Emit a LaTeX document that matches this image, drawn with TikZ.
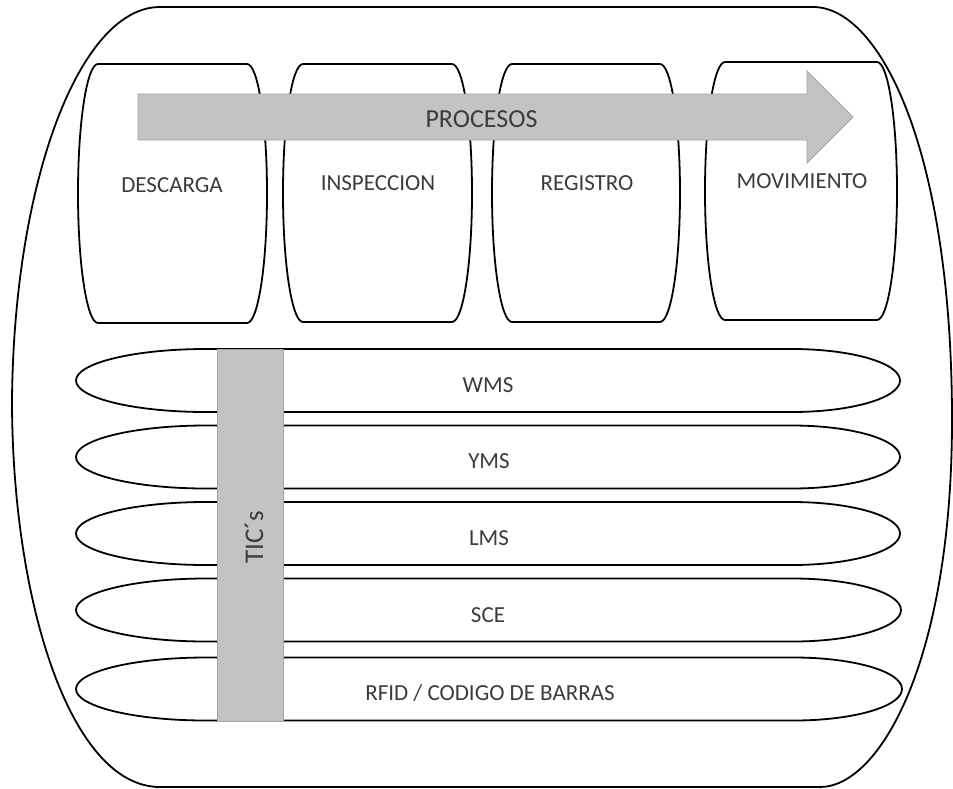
\documentclass[tikz,border=0pt]{standalone}
\usepackage{fontspec}
\setmainfont{Carlito}
\begin{document}
\definecolor{txt}{HTML}{3C3C3C}
\definecolor{barfill}{HTML}{C3C3C3}
\definecolor{baredge}{HTML}{A4A4A4}
\tikzset{
  outline/.style={draw=black, line width=1.8pt, fill=white},
  label/.style={text=txt, font=\fontsize{23}{26}\selectfont, inner sep=0pt, anchor=base},
  graybar/.style={fill=barfill, draw=baredge, line width=0.8pt},
}
% process column: flat top and bottom, half-elliptic sides
\newcommand\procshape[5]{%
  \pgfmathsetmacro\prA{#1+#5}\pgfmathsetmacro\prB{#2-#5}%
  \pgfmathsetmacro\prH{(#4-#3)/2}%
  \draw[outline] (\prA,-#3) -- (\prB,-#3)
    arc[start angle=90, end angle=-90, x radius=#5, y radius=\prH]
    -- (\prA,-#4)
    arc[start angle=270, end angle=90, x radius=#5, y radius=\prH] -- cycle;}
% system band: long stripe with pointed elliptic ends (centre y)
\newcommand\bandshape[3]{%
  \pgfmathsetmacro\bdT{#1-31.5}\pgfmathsetmacro\bdB{#1+31.5}%
  \pgfmathsetmacro\bdL{76+130}\pgfmathsetmacro\bdR{#2-108}%
  \draw[outline] (\bdL,-\bdT) -- (\bdR,-\bdT)
    arc[start angle=90, end angle=-90, x radius=108, y radius=31.5]
    -- (\bdL,-\bdB)
    arc[start angle=270, end angle=90, x radius=130, y radius=31.5] -- cycle;}
\begin{tikzpicture}[x=1pt, y=1pt]
\useasboundingbox (0,0) rectangle (953,-788);

% enclosing frame
\draw[outline] (160,-7) -- (813,-7)
  .. controls (880,-7) and (952,-150) .. (952,-420)
  .. controls (952,-660) and (880,-787) .. (820,-787)
  -- (160,-787)
  .. controls (70,-787) and (12,-600) .. (12,-400)
  .. controls (14,-180) and (80,-7) .. (160,-7) -- cycle;

% process columns
\procshape{78}{267}{64}{323}{20}
\procshape{283}{472}{64}{322}{20}
\procshape{492}{680}{64}{322}{20}
\procshape{705}{897}{62}{320}{20}

% process arrow
\draw[graybar] (138,-94) -- (807,-94) -- (807,-71) -- (853,-117)
  -- (807,-163) -- (807,-140) -- (138,-140) -- cycle;
\node[label, font=\fontsize{26}{30}\selectfont] (procesos) at (481.5,-127) {PROCESOS};

\node[label] (descarga)   at (172,-192) {DESCARGA};
\node[label] (inspeccion) at (378,-190) {INSPECCION};
\node[label] (registro)   at (587,-190) {REGISTRO};
\node[label] (movimiento) at (802,-188) {MOVIMIENTO};

% system bands
\bandshape{380.5}{900}{}
\bandshape{457}{900}{}
\bandshape{533.5}{900}{}
\bandshape{610}{901}{}
\bandshape{689}{902}{}

\node[label] (wms)  at (488,-392) {WMS};
\node[label] (yms)  at (489,-468) {YMS};
\node[label] (lms)  at (489,-545) {LMS};
\node[label] (sce)  at (488,-622) {SCE};
\node[label] (rfid) at (490,-700) {RFID / CODIGO DE BARRAS};

% ICT column across the bands
\draw[graybar] (217,-349) rectangle (283,-721);
\node[label, rotate=90, font=\fontsize{27}{30}\selectfont] (tics) at (263,-537) {TIC´s};
\end{tikzpicture}
\end{document}
